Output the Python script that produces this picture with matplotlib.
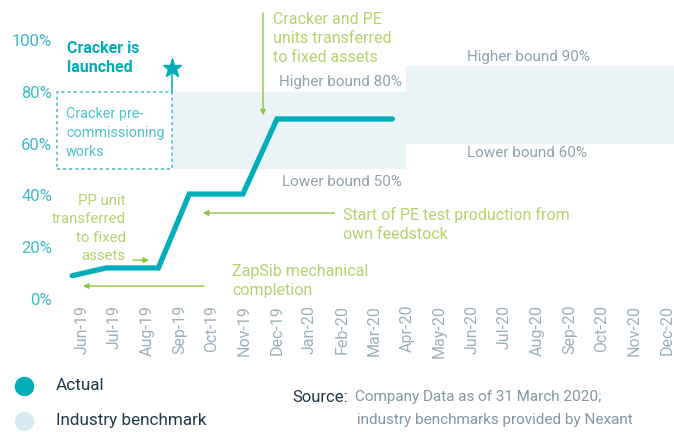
import matplotlib
matplotlib.use('Agg')
import matplotlib.pyplot as plt
from matplotlib.lines import Line2D
from matplotlib.patches import Rectangle

plt.rcParams['font.family'] = ['Roboto', 'DejaVu Sans']

months = ['Jun-19', 'Jul-19', 'Aug-19', 'Sep-19', 'Oct-19', 'Nov-19', 'Dec-19',
          'Jan-20', 'Feb-20', 'Mar-20', 'Apr-20', 'May-20', 'Jun-20', 'Jul-20',
          'Aug-20', 'Sep-20', 'Oct-20', 'Nov-20', 'Dec-20']
# actual progress (position in months from Jun-19, percent)
actual_x = [-0.3, 0.75, 2.35, 3.3, 4.95, 6.0, 9.55]
actual_y = [9, 12, 12, 40.5, 40.5, 69.5, 69.5]
# industry benchmark bands
band1_x = [2.77, 9.97]
band1_y = [50, 80]
band2_x = [9.97, 18.3]
band2_y = [60, 90]
yticks = [0, 20, 40, 60, 80, 100]

TEAL = '#00adb9'
GREEN_TXT = '#b3d46a'
GREEN_ARR = '#8dc63f'
GRAY = '#8ea2ae'
BAND = '#eaf4f7'

fig = plt.figure(figsize=(6.74, 4.32), dpi=100)
ax = fig.add_axes([57 / 674, 132 / 432, 617 / 674, 295 / 432])
ax.set_xlim(-0.769, 18.215)
ax.set_ylim(-0.39, 113.5)
for s in ax.spines.values():
    s.set_visible(False)

ax.fill_between(band1_x, band1_y[0], band1_y[1], color=BAND, lw=0, zorder=1)
ax.fill_between(band2_x, band2_y[0], band2_y[1], color=BAND, lw=0, zorder=1, clip_on=False)

# dashed box for pre-commissioning
ax.add_patch(Rectangle((-0.77, 50), 2.77 + 0.77, 30, fill=False, ls=(0, (2, 2)),
                       ec='#3dbbc8', lw=1.1, zorder=2, clip_on=False))
ax.plot([2.77, 2.77], [80, 87], color=TEAL, lw=1.1, zorder=2)
ax.plot([2.77], [89.3], marker='*', color=TEAL, ms=14, zorder=3)

ax.plot(actual_x, actual_y, color=TEAL, lw=3.8, solid_capstyle='round',
        solid_joinstyle='miter', zorder=4)

ax.set_yticks(yticks)
ax.set_yticklabels([f'{v}%' for v in yticks], color='#3dbbc8', fontsize=12)
ax.set_xticks(range(len(months)))
ax.set_xticklabels(months, rotation=90, color='#9bb0bc', fontsize=11.5)
ax.tick_params(length=0)
ax.tick_params(axis='y', pad=3.5)
ax.tick_params(axis='x', pad=3.5)

fs = 11.5
ls = 1.33
ax.text(-0.46, 92.9, 'Cracker is\nlaunched', color=TEAL, fontsize=fs, fontweight='bold',
        va='center', ha='left', linespacing=ls)
ax.text(-0.49, 64.2, 'Cracker pre-\ncommissioning\nworks', color='#4cc3cf', fontsize=10.4,
        va='center', ha='left', linespacing=1.45)

ax.text(5.88, 100.5, 'Cracker and PE\nunits transferred\nto fixed assets', color=GREEN_TXT,
        fontsize=fs, va='center', ha='left', linespacing=ls)
ax.annotate('', xy=(5.57, 69.8), xytext=(5.57, 111.5),
            arrowprops=dict(arrowstyle='-|>', color=GREEN_ARR, lw=1, mutation_scale=8))

ax.text(9.85, 83.8, 'Higher bound 80%', color=GRAY, fontsize=11, va='center', ha='right')
ax.text(9.85, 45.2, 'Lower bound 50%', color=GRAY, fontsize=11, va='center', ha='right')
ax.text(11.85, 93.4, 'Higher bound 90%', color=GRAY, fontsize=11, va='center', ha='left')
ax.text(11.85, 56.4, 'Lower bound 60%', color=GRAY, fontsize=11, va='center', ha='left')

ax.text(8.03, 28.6, 'Start of PE test production from\nown feedstock', color=GREEN_TXT,
        fontsize=fs, va='center', ha='left', linespacing=ls)
ax.annotate('', xy=(3.63, 33.2), xytext=(7.85, 33.2),
            arrowprops=dict(arrowstyle='-|>', color=GREEN_ARR, lw=1, mutation_scale=8))

ax.text(4.62, 7.1, 'ZapSib mechanical\ncompletion', color=GREEN_TXT,
        fontsize=fs, va='center', ha='left', linespacing=ls)
ax.annotate('', xy=(-0.06, 5), xytext=(3.85, 5),
            arrowprops=dict(arrowstyle='-|>', color=GREEN_ARR, lw=1, mutation_scale=8))

ax.text(1.35, 27.2, 'PP unit\ntransferred\nto fixed\nassets', color=GREEN_TXT,
        fontsize=10.8, va='center', ha='right', linespacing=1.4)
ax.annotate('', xy=(2.15, 15), xytext=(1.48, 15),
            arrowprops=dict(arrowstyle='-|>', color=GREEN_ARR, lw=1, mutation_scale=8))

# legend
def fx(px):
    return px / 674

def fy(py):
    return 1 - py / 432

fig.add_artist(Line2D([fx(24)], [fy(386)], marker='o', ms=13, color=TEAL,
                      transform=fig.transFigure))
fig.add_artist(Line2D([fx(24)], [fy(421)], marker='o', ms=13, color='#d6ebf1',
                      transform=fig.transFigure))
fig.text(fx(56), fy(386), 'Actual', color='#1f3a4a', fontsize=12.3, va='center')
fig.text(fx(56), fy(421), 'Industry benchmark', color='#1f3a4a', fontsize=12.3, va='center')

fig.text(fx(292), fy(397), 'Source:', color='#1f3a45', fontsize=12, va='center')
fig.text(fx(355), fy(397), 'Company Data as of 31 March 2020;', color='#7f97a4',
         fontsize=11, va='center')
fig.text(fx(357), fy(420), 'industry benchmarks provided by Nexant', color='#7f97a4',
         fontsize=11, va='center')

fig.savefig('out.png', dpi=100)
